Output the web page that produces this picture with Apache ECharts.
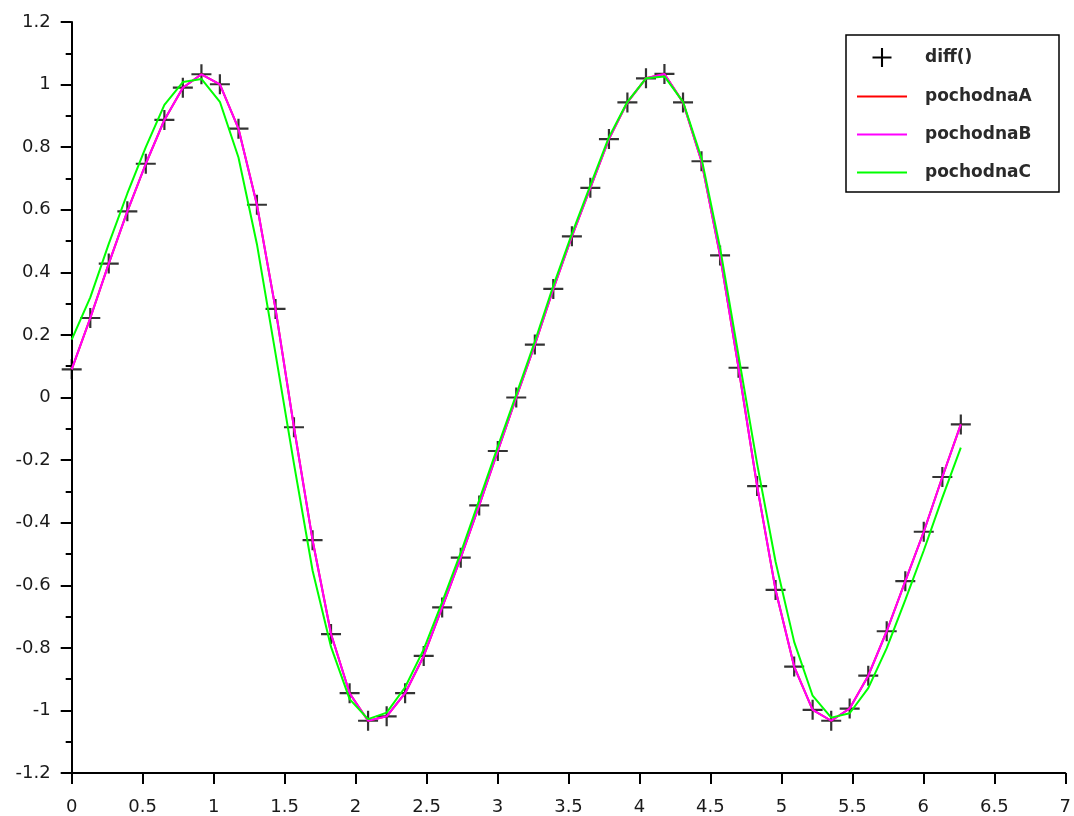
<!DOCTYPE html>
<html>
<head>
<meta charset="utf-8">
<script src="https://cdn.jsdelivr.net/npm/echarts@6/dist/echarts.min.js"></script>
<style>
html,body{margin:0;padding:0;background:#fff;}
#chart{width:1074px;height:816px;}
</style>
</head>
<body>
<div id="chart"></div>
<script>
// x positions of the sampled points
const xValues = [0, 0.131, 0.261, 0.392, 0.522, 0.653, 0.783, 0.914, 1.044, 1.175,
  1.305, 1.436, 1.566, 1.697, 1.827, 1.958, 2.088, 2.219, 2.349, 2.480,
  2.610, 2.741, 2.871, 3.002, 3.132, 3.263, 3.393, 3.524, 3.654, 3.785,
  3.915, 4.046, 4.176, 4.307, 4.437, 4.568, 4.698, 4.829, 4.959, 5.090,
  5.220, 5.351, 5.481, 5.612, 5.742, 5.873, 6.003, 6.134, 6.264];

// diff() markers
const diffValues = [0.09, 0.254, 0.428, 0.595, 0.747, 0.887, 0.99, 1.033, 1.001, 0.859,
  0.616, 0.283, -0.095, -0.456, -0.756, -0.945, -1.033, -1.019, -0.945, -0.826,
  -0.671, -0.512, -0.345, -0.171, 0.0, 0.169, 0.347, 0.515, 0.67, 0.826,
  0.943, 1.02, 1.034, 0.943, 0.755, 0.454, 0.095, -0.283, -0.615, -0.86,
  -0.998, -1.033, -0.994, -0.889, -0.747, -0.587, -0.429, -0.254, -0.086];

// pochodnaA (lies under pochodnaB)
const pochodnaA = [0.09, 0.254, 0.428, 0.595, 0.747, 0.887, 0.99, 1.033, 1.001, 0.859,
  0.616, 0.283, -0.095, -0.456, -0.756, -0.945, -1.033, -1.019, -0.945, -0.826,
  -0.671, -0.512, -0.345, -0.171, 0.0, 0.169, 0.347, 0.515, 0.67, 0.826,
  0.943, 1.02, 1.034, 0.943, 0.755, 0.454, 0.095, -0.283, -0.615, -0.86,
  -0.998, -1.033, -0.994, -0.889, -0.747, -0.587, -0.429, -0.254, -0.086];

// pochodnaB
const pochodnaB = [0.09, 0.254, 0.428, 0.595, 0.747, 0.887, 0.99, 1.033, 1.001, 0.859,
  0.616, 0.283, -0.095, -0.456, -0.756, -0.945, -1.033, -1.019, -0.945, -0.826,
  -0.671, -0.512, -0.345, -0.171, 0.0, 0.169, 0.347, 0.515, 0.67, 0.826,
  0.943, 1.02, 1.034, 0.943, 0.755, 0.454, 0.095, -0.283, -0.615, -0.86,
  -0.998, -1.033, -0.994, -0.889, -0.747, -0.587, -0.429, -0.254, -0.086];

// pochodnaC
const pochodnaC = [0.185, 0.32, 0.491, 0.652, 0.8, 0.935, 1.008, 1.018, 0.945, 0.767,
  0.49, 0.14, -0.212, -0.553, -0.797, -0.964, -1.028, -1.007, -0.926, -0.805,
  -0.654, -0.496, -0.328, -0.157, 0.009, 0.179, 0.357, 0.523, 0.678, 0.832,
  0.945, 1.02, 1.026, 0.945, 0.765, 0.478, 0.134, -0.212, -0.525, -0.781,
  -0.953, -1.023, -1.009, -0.929, -0.801, -0.647, -0.489, -0.32, -0.16];

const xTicks = {min: 0, max: 7, interval: 0.5};
const yTicks = {min: -1.2, max: 1.2, interval: 0.2};

const pair = (ys) => xValues.map((x, i) => [x, ys[i]]);
const plusPath = 'path://M8.9,0H11.1V20H8.9ZM0,8.9H20V11.1H0Z';
const labelFont = {fontFamily: 'DejaVu Sans', fontSize: 18, color: '#1a1a1a'};

const chart = echarts.init(document.getElementById('chart'), null, {renderer: 'canvas'});
chart.setOption({
  animation: false,
  backgroundColor: '#fff',
  grid: {left: 71.7, top: 22, right: 5.7, bottom: 42, containLabel: false},
  xAxis: {
    type: 'value', min: xTicks.min, max: xTicks.max, interval: xTicks.interval,
    axisLine: {show: true, onZero: false, lineStyle: {color: '#000', width: 2}},
    axisTick: {show: true, inside: false, length: 11, lineStyle: {color: '#000', width: 2}},
    axisLabel: Object.assign({margin: 25}, labelFont),
    splitLine: {show: false}
  },
  yAxis: {
    type: 'value', min: yTicks.min, max: yTicks.max, interval: yTicks.interval,
    axisLine: {show: true, onZero: false, lineStyle: {color: '#000', width: 2}},
    axisTick: {show: true, inside: false, length: 11, lineStyle: {color: '#000', width: 2}},
    minorTick: {show: true, splitNumber: 2, length: 6, lineStyle: {color: '#000', width: 2}},
    axisLabel: Object.assign({margin: 21}, labelFont),
    splitLine: {show: false}
  },
  legend: {
    orient: 'vertical', left: 846, top: 35,
    padding: [13, 10, 11, 10],
    itemWidth: 50, itemHeight: 19, itemGap: 21,
    selectedMode: false,
    itemStyle: {opacity: 0},
    textStyle: {fontFamily: 'DejaVu Sans', fontSize: 17, fontWeight: 'bold', color: '#2a2a2a', padding: [0, 0, 0, 13]},
    data: [
      {name: 'diff()', icon: plusPath, itemStyle: {opacity: 1, color: '#000'}},
      {name: 'pochodnaA'},
      {name: 'pochodnaB'},
      {name: 'pochodnaC'}
    ]
  },
  graphic: [{
    type: 'rect', z: 0,
    shape: {x: 846, y: 35, width: 213, height: 157},
    style: {fill: 'none', stroke: '#000', lineWidth: 1.5}
  }],
  series: [
    {name: 'diff()', type: 'scatter', symbol: plusPath, symbolSize: 20, symbolKeepAspect: true,
      itemStyle: {color: '#000'}, data: pair(diffValues)},
    {name: 'pochodnaA', type: 'line', symbol: 'none', lineStyle: {color: '#ff0000', width: 2},
      itemStyle: {color: '#ff0000'}, data: pair(pochodnaA)},
    {name: 'pochodnaB', type: 'line', symbol: 'none', lineStyle: {color: '#ff00ff', width: 2},
      itemStyle: {color: '#ff00ff'}, data: pair(pochodnaB)},
    {name: 'pochodnaC', type: 'line', symbol: 'none', lineStyle: {color: '#00ff00', width: 2},
      itemStyle: {color: '#00ff00'}, data: pair(pochodnaC)}
  ]
});
</script>
</body>
</html>
